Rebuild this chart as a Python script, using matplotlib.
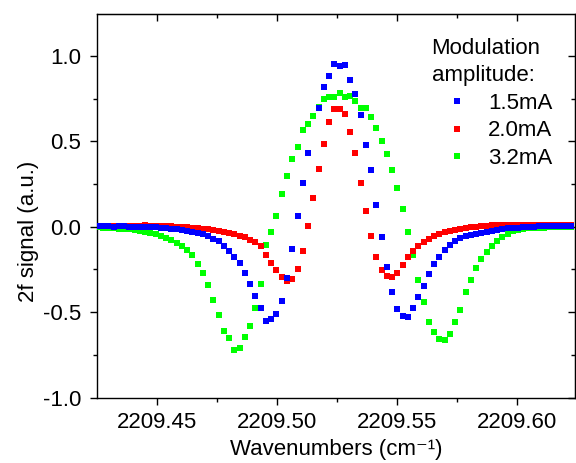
import numpy as np
import matplotlib
matplotlib.use("Agg")
import matplotlib.pyplot as plt
from matplotlib.ticker import MultipleLocator, FormatStrFormatter

plt.rcParams["font.family"] = ["Liberation Sans", "DejaVu Sans"]
plt.rcParams["axes.unicode_minus"] = False

FS = 16

# scan sampling (cm^-1), same grid for all three traces
X_START = 2209.4255
X_STEP = 0.00219

# 2f signal, 1.5 mA modulation (one sample missing near the peak)
signal_15 = [
    0.002, 0.003, 0.002, 0.001, 0.002, 0.003, 0.001, 0.000, -0.001, -0.002, -0.003,
    -0.004, -0.006, -0.008, -0.011, -0.015, -0.019, -0.024, -0.029, -0.034, -0.041,
    -0.055, -0.070, -0.086, -0.115, -0.144, -0.177, -0.212, -0.273, -0.335, -0.405,
    -0.476, -0.550, -0.542, -0.510, -0.437, -0.298, -0.131, 0.062, 0.255, 0.431,
    np.nan, 0.694, 0.820, 0.883, 0.953, 0.942, 0.945, 0.856, 0.776, 0.653,
    0.480, 0.329, 0.125, -0.058, -0.234, -0.382, -0.480, -0.520, -0.525, -0.476,
    -0.411, -0.344, -0.279, -0.220, -0.176, -0.137, -0.109, -0.082, -0.066, -0.057,
    -0.049, -0.041, -0.034, -0.028, -0.022, -0.017, -0.013, -0.010, -0.008, -0.005,
    -0.003, -0.001, 0.001, 0.002, 0.002, 0.003, 0.002, 0.003, 0.002, 0.002,
]

# 2.0 mA
signal_20 = [
    0.004, 0.005, 0.004, 0.006, 0.005, 0.006, 0.007, 0.006, 0.007, 0.008, 0.007,
    0.006, 0.005, 0.004, 0.002, 0.000, -0.002, -0.004, -0.006, -0.009, -0.012,
    -0.016, -0.020, -0.025, -0.031, -0.037, -0.044, -0.052, -0.062, -0.075, -0.092,
    -0.115, -0.164, -0.212, -0.255, -0.294, -0.316, -0.304, -0.248, -0.140, 0.006,
    0.170, 0.337, 0.485, 0.615, 0.690, 0.688, 0.660, 0.554, 0.431, 0.256,
    0.092, -0.057, -0.179, -0.253, -0.290, -0.296, -0.271, -0.222, -0.179, -0.140,
    -0.113, -0.090, -0.070, -0.055, -0.043, -0.033, -0.025, -0.018, -0.012, -0.008,
    -0.004, 0.000, 0.003, 0.006, 0.008, 0.010, 0.010, 0.011, 0.012, 0.013,
    0.012, 0.013, 0.012, 0.011, 0.012, 0.010, 0.011, 0.010, 0.009, 0.010,
]

# 3.2 mA
signal_32 = [
    -0.004, -0.006, -0.008, -0.010, -0.012, -0.014, -0.016, -0.019, -0.023, -0.028, -0.036,
    -0.045, -0.055, -0.066, -0.080, -0.095, -0.112, -0.137, -0.166, -0.217, -0.268,
    -0.340, -0.427, -0.515, -0.607, -0.653, -0.719, -0.710, -0.647, -0.578, -0.473,
    -0.335, -0.107, -0.028, 0.065, 0.193, 0.294, 0.398, 0.466, 0.563, 0.603,
    0.647, 0.700, 0.747, 0.758, 0.758, 0.780, 0.758, 0.762, 0.735, 0.694,
    0.694, 0.641, 0.577, 0.499, 0.425, 0.329, 0.226, 0.103, -0.029, -0.167,
    -0.313, -0.439, -0.555, -0.615, -0.658, -0.661, -0.625, -0.558, -0.489, -0.380,
    -0.312, -0.240, -0.188, -0.147, -0.112, -0.082, -0.058, -0.040, -0.027, -0.019,
    -0.013, -0.010, -0.008, -0.006, -0.005, -0.004, -0.003, -0.003, -0.002, -0.002,
]

labels = ["1.5mA", "2.0mA", "3.2mA"]
colors = ["#0000ff", "#ff0000", "#00ff00"]

wavenumber = X_START + X_STEP * np.arange(len(signal_15))

fig = plt.figure(figsize=(5.76, 4.63), dpi=100)
ax = fig.add_axes([0.169, 0.141, 0.829, 0.829])

handles = []
series = [signal_15, signal_20, signal_32]
for i, (sig, lab, col) in enumerate(zip(series, labels, colors)):
    h, = ax.plot(wavenumber, sig, "s", ms=4.7, mew=0, color=col,
                 label=lab, zorder=5 - i)
    handles.append(h)

ax.set_xlim(2209.4253, 2209.6243)
ax.set_ylim(-1.0, 1.245)

ax.xaxis.set_major_locator(MultipleLocator(0.05))
ax.xaxis.set_minor_locator(MultipleLocator(0.025))
ax.xaxis.set_major_formatter(FormatStrFormatter("%.2f"))
ax.yaxis.set_major_locator(MultipleLocator(0.5))
ax.yaxis.set_minor_locator(MultipleLocator(0.25))
ax.yaxis.set_major_formatter(FormatStrFormatter("%.1f"))

ax.tick_params(which="both", direction="out", width=1.0, labelsize=FS)
ax.tick_params(which="major", length=5)
ax.tick_params(which="minor", length=3)
ax.tick_params(axis="x", pad=5.5)
ax.tick_params(axis="y", pad=6.5)
for s in ax.spines.values():
    s.set_linewidth(1.0)

# mirrored ticks pointing inward on top and right
top = ax.secondary_xaxis("top")
top.xaxis.set_major_locator(MultipleLocator(0.05))
top.xaxis.set_minor_locator(MultipleLocator(0.025))
top.tick_params(which="both", direction="in", labeltop=False, width=1.0)
top.tick_params(which="major", length=5)
top.tick_params(which="minor", length=3)
right = ax.secondary_yaxis("right")
right.yaxis.set_major_locator(MultipleLocator(0.5))
right.yaxis.set_minor_locator(MultipleLocator(0.25))
right.tick_params(which="both", direction="in", labelright=False, width=1.0)
right.tick_params(which="major", length=5)
right.tick_params(which="minor", length=3)

ax.set_xlabel("Wavenumbers (cm\u207b\u00b9)", fontsize=FS)
ax.set_ylabel("2f signal (a.u.)", fontsize=FS)
ax.xaxis.set_label_coords(0.5, -0.134)
ax.xaxis.label.set_va("center")
ax.yaxis.set_label_coords(-0.145, 0.434)
ax.yaxis.label.set_va("center")

leg = ax.legend(handles=handles, title="Modulation\namplitude:", loc="upper left",
                bbox_to_anchor=(0.70, 0.938), frameon=False, fontsize=FS,
                title_fontsize=FS, alignment="left", handlelength=2.25,
                handletextpad=0.3, labelspacing=0.3, borderpad=0, borderaxespad=0)
leg.get_title().set_linespacing(1.4)

fig.savefig("out.png", dpi=100)
